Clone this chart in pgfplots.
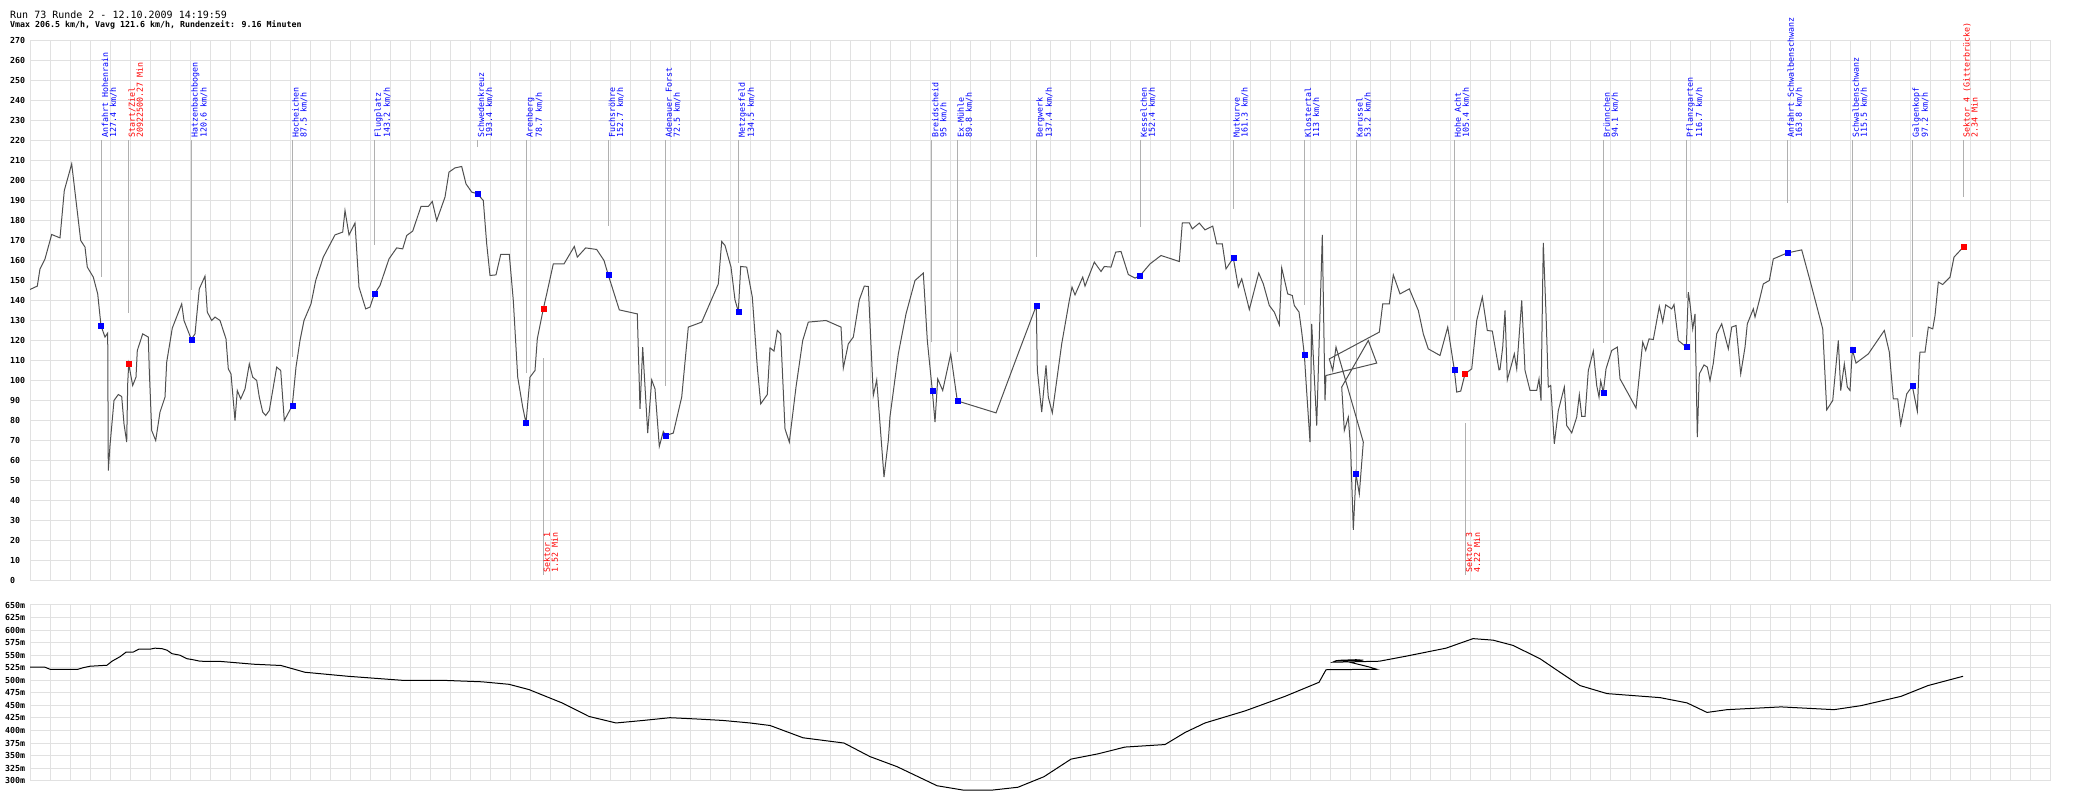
\documentclass[border=0pt]{standalone}
\usepackage{pgfplots}
\usepackage{pgfplotstable}
\pgfplotsset{compat=1.18}
\usepackage{fontspec}
\setmainfont{DejaVu Sans Mono}
\setmonofont{DejaVu Sans Mono}

\definecolor{gridgray}{RGB}{225,225,225}
\definecolor{markgray}{RGB}{176,176,176}
\definecolor{linegray}{RGB}{80,80,80}
\definecolor{mblue}{RGB}{0,0,255}
\definecolor{mred}{RGB}{255,0,0}

\newcommand{\lbl}{\fontsize{8.3pt}{8pt}\selectfont}
\newcommand{\tickf}{\fontsize{8.3pt}{9pt}\selectfont\bfseries}

% speed (x = pixel column, km/h)
\pgfplotstableread{
x v
30 145.5
37.3 147.2
40 155.8
45 160.8
51.7 173
60 171.3
64.3 195
71.7 208.3
80.7 170
85 166.7
87.3 156.7
93.3 151.7
97.7 143.3
101 127.4
105 121.7
107.7 123.7
108.3 55
110 67.5
114 90
118.3 93
121.7 92
124 78.3
126.7 69.2
127.7 98.3
128.7 108.3
132.7 97.5
136 101.7
137.3 115
142.7 123.3
148.3 121.7
149.3 105
151.7 75
155.7 70
160 84.2
165 91.7
166.7 109.2
172.3 126.2
181.7 138.3
184 130
191.3 120.6
195 123.3
199.3 145.8
205 152.2
207.3 134.2
211.7 130
215 131.7
220 130
226 120.8
228.3 105.8
231 103.3
235 80
237.3 95
240.7 90.8
245 95.8
249.3 108.3
252.7 101.7
256.7 100
259.3 91.7
262.7 84.2
265.7 82.5
269.3 85
276.7 106.7
280.7 105
284.3 80
292.3 87.5
296 106.7
300 120
304 130
311 138.3
315.7 150
323.3 161.7
335 172.8
342.7 174.2
345 185
349 172.8
355 178.7
359 146.7
365.7 135.8
370 136.7
374.3 143.2
380 147.5
389 160.8
396.7 166.3
402.7 165.8
406.7 172.5
412.7 174.7
421 187
428.3 187
432.3 189.5
436.7 180
445 191.7
449 204.2
455 206.3
461.7 207
466 198.3
471.7 194.2
477.3 193.4
483.3 190
486.7 168.3
490 152.5
496 152.8
500.7 163
509.3 163
513.3 140
517.7 101.7
522.7 86.7
526 78.7
530 101.7
535 105
537.3 120.8
543.3 135.8
546.7 143.3
553.3 158.3
564 158.3
574.3 167
577.3 161.7
585.7 166.3
596.7 165.5
604 160
608.3 152.7
619.3 135.3
637.3 133.3
640 85.8
642.7 116.7
647.7 73.7
651.7 100.3
655 95.8
659.3 67
663.3 74.5
665.7 72.5
673.3 73.7
681.7 91.7
688.3 126.7
701.7 129.2
718.3 148.3
721.7 169.5
725 167.5
731 156.7
735 140.3
738.3 134.5
740.7 157
746.7 156.7
752.3 141.7
757.3 106.7
760.7 88.3
767.3 93
770 116.3
774 114.7
777.3 125
780.7 123.3
785 75.8
789.3 69.2
796 96.7
802.7 120
808.3 129.2
826 130
841 126.7
843.3 106.2
848.3 118.3
853.3 121.7
859.3 140.3
864.3 147.2
868.3 147
873.3 92.5
876.7 100.3
884 51.7
888.3 70
890 82
898.3 113.3
906 133.3
915 150
923.3 153.7
927.3 120
932.3 95
935 79.2
937.7 100.8
942.7 95
950.7 113.3
957.3 89.8
996 83.8
1019.3 115
1036.3 137.4
1037.3 105.3
1041.7 84.2
1046 107.5
1048.3 91.7
1052.3 83.8
1061.7 118.3
1069.3 140
1072 146.7
1075 142.8
1082.7 151.7
1085 147.2
1094.3 159.2
1101 154.5
1104.3 157
1111 156.7
1115.7 164.2
1121 164.5
1128.3 153
1135 151.2
1140 152.4
1150 158.3
1161 162.5
1179.3 159.5
1182.3 178.8
1189.3 178.8
1192.3 175.8
1199.3 178.7
1205 175.3
1212.7 177.2
1216.7 168.3
1222.3 168.3
1226 155.8
1233.3 161.3
1238.3 146.7
1241.7 150.8
1249.3 135.5
1258.7 153.7
1263.3 148.3
1269.3 137.5
1274.3 134.2
1279.3 127.8
1281.7 156.3
1287.7 143.3
1292.3 142.5
1294.3 137.5
1299 134.2
1301.7 124.2
1304.3 113
1306.7 94.2
1310 69.2
1311.7 128.3
1316.7 77.5
1322.3 172.8
1325 90
1326 102.5
1376.7 108.7
1368.3 120
1341.7 96.7
1344.3 75
1348.3 81.7
1350.7 65
1353.3 25.3
1356 53.2
1359.3 43.3
1363.3 69.2
1336 116.7
1332.7 105
1329.3 110.8
1379.3 124.2
1382.7 138.3
1389.3 138.3
1393.3 152.8
1400 143.3
1409.3 145.8
1418.3 135
1423.3 123.3
1428.3 115.8
1440 112.5
1447.7 126.7
1454.3 105.4
1456.7 94.2
1460.7 94.7
1465 103.3
1471.7 105.8
1476.7 130
1482.3 141.7
1487.3 125
1492.3 124.7
1499 105.3
1500 105.5
1502.7 116.7
1505 135
1507.3 100.3
1511.7 108.3
1514.3 113.3
1516.7 105.8
1518.3 116.7
1521.7 140
1525 105
1530 95
1536.7 95
1539 100.8
1541 90
1542.7 150
1543.3 168.8
1546 133.3
1548.3 96.7
1550.7 97.5
1554.3 68.3
1558.3 85
1564.3 96.7
1566.7 77.5
1571.7 73.8
1576.7 81.7
1579.3 92.8
1581.7 82
1585 82
1588.3 105
1593.3 114.7
1596.7 97.5
1599 91.7
1600.7 99.7
1603.3 94.1
1606 105.8
1611.7 115
1617.3 116.7
1620 100.8
1628.3 93.3
1636 86.2
1642.7 119.2
1645.7 115
1649 120.8
1653.3 120.5
1659.3 137
1662.7 129.2
1665.7 137.8
1671.7 135.8
1674 138
1678.3 120
1686.3 116.7
1688.3 144.2
1690 138.3
1692.7 125.8
1695 133.3
1697.3 71.7
1699.3 103.3
1704 107.8
1707.3 106.7
1710 100
1713.3 108.7
1716.7 123.3
1721.7 128.3
1728.3 115.8
1731.7 126.7
1736 127.5
1740.7 103.3
1745 116.7
1747.3 128.3
1753.3 135.8
1755 131.7
1759.3 140
1763.3 148.3
1769.3 150
1773.3 160.8
1787.3 163.8
1801.7 165.3
1810 150
1822.7 125.8
1826.7 85.3
1832.7 90
1838.3 120
1840.7 95
1844.3 108.3
1847.3 96.7
1850 95
1852.3 115.5
1856 108.7
1868.3 113.3
1884.3 125
1889.3 114.2
1893.3 90.8
1897.7 90.8
1900.7 78
1906.7 93.3
1912.3 97.2
1917.3 84.7
1919.3 110
1920 114.2
1925 114.2
1928.3 126.7
1932.7 125.8
1935 132.5
1938.3 149.2
1942.7 148
1950 151.7
1954 161.7
1963.3 166.7
}\speed

\pgfplotstableread{
x v
101 127.4
191.3 120.6
292.3 87.5
374.3 143.2
477.3 193.4
526 78.7
608.3 152.7
665.7 72.5
738.3 134.5
932.3 95
957.3 89.8
1036.3 137.4
1140 152.4
1233.3 161.3
1304.3 113
1356 53.2
1454.3 105.4
1603.3 94.1
1686.3 116.7
1787.3 163.8
1852.3 115.5
1912.3 97.2
}\bluemarks

\pgfplotstableread{
x v
128.5 108.3
543.3 135.8
1465 103.3
1963.3 166.7
}\redmarks

% elevation (m)
\pgfplotstableread{
x h
30 526
45 526
50 522
78 522
83 525
90 528
107 530
112 538
120 547
126 556
133 556
139 562
150 562
155 564
162 563
167 560
172 553
180 550
187 543
193 541
200 538
221 537.5
254 532
281 529.5
305 516
348 508
402 500
442 500
482 497
509 492
529 481.5
562 455
589 428
616 415
643 420
670 425.5
696 423
723 420
750 415
770 410
803 385.5
844 375
870 348
897 328
937 290
964 281
991 281
1018 287
1044 308
1071 343
1098 353.5
1125 367
1165 372
1185 396
1205 415
1245 439
1285 468
1319 496
1326 521
1376.7 522
1368.3 527
1341.7 540
1356 541
1363.3 540
1336 539
1332.7 536
1379.3 538
1406 548
1446 564
1473 583
1493 580
1513 569.5
1540 543
1560 516
1580 489.5
1607 473.5
1660 465.5
1687 455
1707 436
1727 441.5
1781 447
1834 441.5
1861 449.5
1901 468
1928 489.5
1963 508
}\elev

% marker line + rotated label above the curve
\newcommand{\toplabel}[4]{%
  \draw[markgray, line width=1pt] (axis cs:#1,220.25) -- (axis cs:#1,#2);
  \node[rotate=90, anchor=north west, inner sep=0pt, align=left, text=#3, font=\lbl, xshift=-3.5pt]
    at (axis cs:#1,223.25) {#4};}
\newcommand{\botlabel}[4]{%
  \draw[markgray, line width=1pt] (axis cs:#1,#2) -- (axis cs:#1,2.75);
  \node[rotate=90, anchor=north west, inner sep=0pt, align=left, text=#3, font=\lbl, xshift=2.7pt]
    at (axis cs:#1,2.75) {#4};}

\pgfplotsset{
  refaxis/.style={
    scale only axis, width=2020pt,
    xmin=30.7, xmax=2050.7,
    xtick={30.7,50.7,...,2050.7}, xticklabels={},
    grid=major, major grid style={gridgray, line width=1pt},
    axis line style={gridgray, line width=1pt},
    tick style={draw=none},
    yticklabel style={anchor=west, inner sep=0pt, font=\tickf},
  },
}

\begin{document}
\begin{tikzpicture}
\path[use as bounding box] (0,0) rectangle (2100pt,800pt);
\node[anchor=base west, inner sep=0pt, font=\fontsize{10pt}{12pt}\selectfont] at (10pt,781pt)
  {Run 73 Runde 2 - 12.10.2009 14:19:59};
\node[anchor=base west, inner sep=0pt, font=\fontsize{8.3pt}{10pt}\selectfont\bfseries] at (10pt,772pt)
  {Vmax 206.5 km/h, Vavg 121.6 km/h, Rundenzeit: 9.16 Minuten};

\begin{axis}[refaxis,
  at={(30.7pt,219.5pt)}, anchor=south west, height=540pt,
  ymin=0, ymax=270, ytick={0,10,...,270},
  yticklabels={0,10,20,30,40,50,60,70,80,90,100,110,120,130,140,150,160,170,180,190,200,210,220,230,240,250,260,270},
  yticklabel style={xshift=-20.7pt},
  clip=false]
\toplabel{101.6}{151.9}{mblue}{Anfahrt Hohenrain\\127.4 km/h}
\toplabel{128.4}{133.6}{mred}{Start/Ziel\\20922500.27 Min}
\toplabel{191}{145.25}{mblue}{Hatzenbachbogen\\120.6 km/h}
\toplabel{292}{111.9}{mblue}{Hocheichen\\87.5 km/h}
\toplabel{374.3}{167.75}{mblue}{Flugplatz\\143.2 km/h}
\toplabel{477.6}{216.75}{mblue}{Schwedenkreuz\\193.4 km/h}
\toplabel{526.2}{103.6}{mblue}{Arenberg\\78.7 km/h}
\toplabel{608.5}{177.25}{mblue}{Fuchsröhre\\152.7 km/h}
\toplabel{665.3}{97.25}{mblue}{Adenauer Forst\\72.5 km/h}
\toplabel{738.3}{158.9}{mblue}{Metzgesfeld\\134.5 km/h}
\toplabel{931.8}{119.4}{mblue}{Breidscheid\\95 km/h}
\toplabel{957.3}{114.4}{mblue}{Ex-Mühle\\89.8 km/h}
\toplabel{1036.2}{161.9}{mblue}{Bergwerk\\137.4 km/h}
\toplabel{1140.2}{176.9}{mblue}{Kesselchen\\152.4 km/h}
\toplabel{1233.2}{185.75}{mblue}{Mutkurve\\161.3 km/h}
\toplabel{1304.5}{137.75}{mblue}{Klostertal\\113 km/h}
\toplabel{1356.1}{53.75}{mblue}{Karussel\\53.2 km/h}
\toplabel{1454.3}{129.75}{mblue}{Hohe Acht\\105.4 km/h}
\toplabel{1603.4}{118.9}{mblue}{Brünnchen\\94.1 km/h}
\toplabel{1686.4}{141.4}{mblue}{Pflanzgarten\\116.7 km/h}
\toplabel{1787.3}{188.6}{mblue}{Anfahrt Schwalbenschwanz\\163.8 km/h}
\toplabel{1852.4}{139.75}{mblue}{Schwalbenschwanz\\115.5 km/h}
\toplabel{1912.3}{121.9}{mblue}{Galgenkopf\\97.2 km/h}
\toplabel{1963.2}{191.75}{mred}{Sektor 4 (Gitterbrücke)\\2.34 Min}
\botlabel{543.3}{111.1}{mred}{Sektor 1\\1.52 Min}
\botlabel{1465.7}{78.6}{mred}{Sektor 3\\4.22 Min}
\addplot[linegray, line width=1pt, no markers] table[x=x, y=v] {\speed};
\addplot[mblue, only marks, mark=square*, mark size=2.5pt, mark options={draw=none, fill=mblue}] table[x=x, y=v] {\bluemarks};
\addplot[mred, only marks, mark=square*, mark size=2.5pt, mark options={draw=none, fill=mred}] table[x=x, y=v] {\redmarks};
\end{axis}

\begin{axis}[refaxis,
  at={(30.7pt,19.3pt)}, anchor=south west, height=175.7pt,
  ymin=300, ymax=650, ytick={300,325,...,650},
  yticklabels={300m,325m,350m,375m,400m,425m,450m,475m,500m,525m,550m,575m,600m,625m,650m},
  yticklabel style={xshift=-25.7pt}, clip=false]
\addplot[black, line width=1pt, no markers] table[x=x, y=h] {\elev};
\end{axis}
\end{tikzpicture}
\end{document}
